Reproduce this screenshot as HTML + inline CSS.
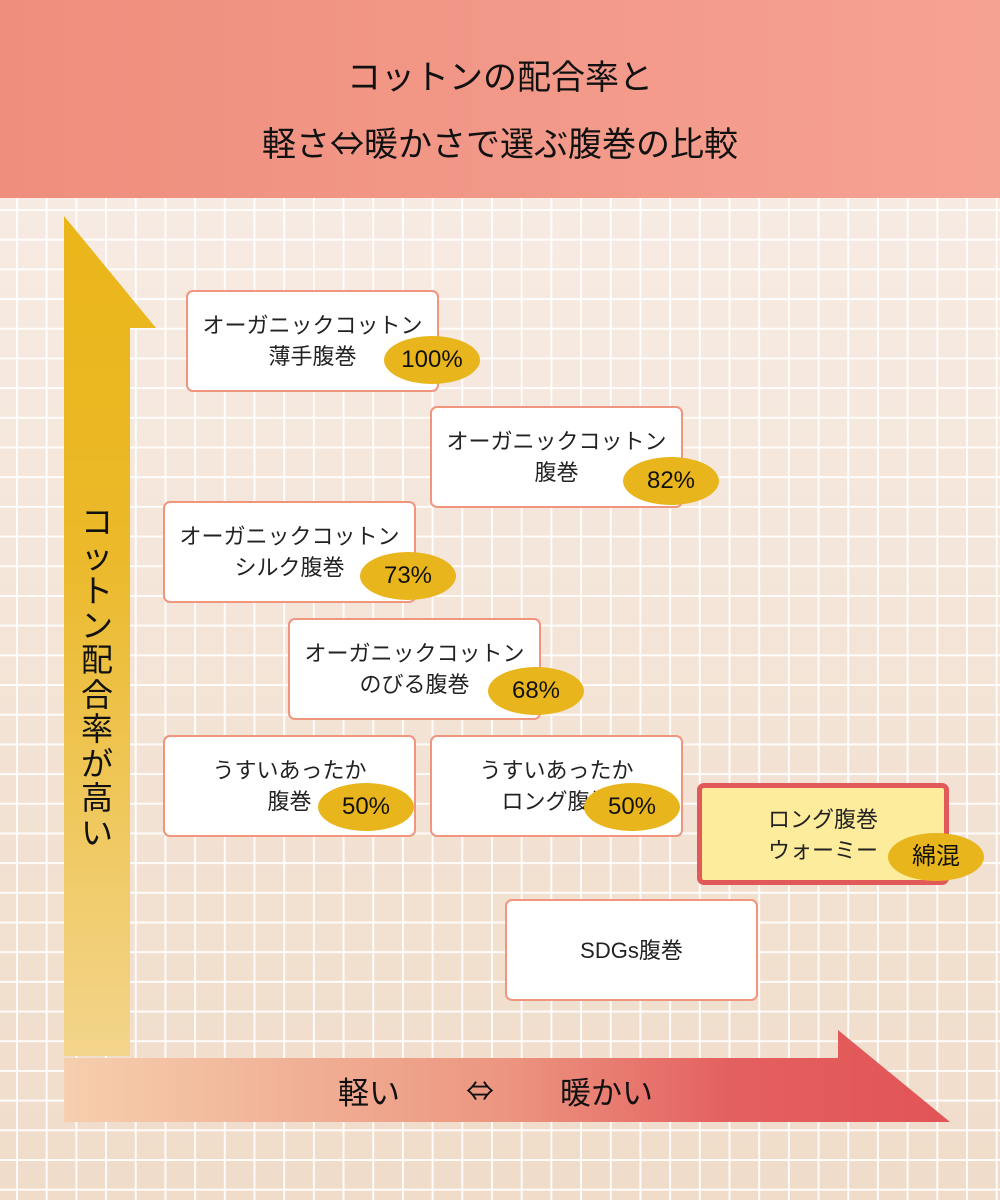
<!DOCTYPE html>
<html><head><meta charset="utf-8"><style>
*{margin:0;padding:0;box-sizing:border-box}
body{width:1000px;height:1200px;position:relative;overflow:hidden;font-family:"Liberation Sans","Noto Sans CJK JP",sans-serif;
background:linear-gradient(#f8eee8,#f0dcc9);}
.grid{position:absolute;left:0;top:198px;width:1000px;height:1002px;
background-image:linear-gradient(90deg,rgba(255,255,255,.9) 2px,transparent 2px),linear-gradient(rgba(255,255,255,.9) 2px,transparent 2px);
background-size:29.7px 29.7px;background-position:16px 11px;}
.hdr{position:absolute;left:0;top:0;width:1000px;height:198px;background:linear-gradient(90deg,#ef8e7d,#f6a293);
color:#111;text-align:center;font-size:34px;font-weight:400}
.hdr div{position:absolute;left:0;width:1000px}
.cj{font-family:"Noto Sans CJK JP",sans-serif}
.box{position:absolute;width:253px;height:102px;background:#fff;border:2px solid #f0957e;border-radius:7px;
text-align:center;font-size:22px;color:#222;line-height:31px;padding-top:18px}
.b{position:absolute;background:#e9b51d;border-radius:50%;width:96px;height:48px;font-size:24px;color:#111;text-align:center;line-height:48px}
.vt{position:absolute;left:79px;top:505px;width:36px;font-size:32px;line-height:34.5px;color:#111;text-align:center}
.ax{position:absolute;top:1068px;font-size:31px;color:#111}
</style></head><body>
<div class="grid"></div>
<div class="hdr"><div style="top:50px">コットンの配合率と</div><div style="top:117px">軽さ<span class="cj">⇔</span>暖かさで選ぶ腹巻の比較</div></div>
<svg style="position:absolute;left:0;top:0" width="1000" height="1200">
<defs>
<linearGradient id="gy" x1="0" y1="0" x2="0" y2="1"><stop offset="0" stop-color="#ebb619"/><stop offset="0.4" stop-color="#ebb92a"/><stop offset="1" stop-color="#f3d58c"/></linearGradient>
<linearGradient id="gr" x1="0" y1="0" x2="1" y2="0"><stop offset="0" stop-color="#f6cfae"/><stop offset="0.5" stop-color="#ec9580"/><stop offset="0.75" stop-color="#e46060"/><stop offset="1" stop-color="#e25456"/></linearGradient>
</defs>
<polygon points="64,216 156,328 130,328 130,1056 64,1056" fill="url(#gy)"/>
<polygon points="64,1058 838,1058 838,1030 950,1122 64,1122" fill="url(#gr)"/>
</svg>
<div class="ax" style="left:338px">軽い</div>
<div class="ax cj" style="left:466px;font-size:28px;top:1070px">⇔</div>
<div class="ax" style="left:560px">暖かい</div>
<div class="vt">コットン配合率が高い</div>

<div class="box" style="left:186px;top:290px">オーガニックコットン<br>薄手腹巻　　</div>
<div class="b" style="left:384px;top:336px">100%</div>

<div class="box" style="left:430px;top:406px">オーガニックコットン<br>腹巻</div>
<div class="b" style="left:623px;top:457px">82%</div>

<div class="box" style="left:163px;top:501px">オーガニックコットン<br>シルク腹巻　</div>
<div class="b" style="left:360px;top:552px">73%</div>

<div class="box" style="left:288px;top:618px">オーガニックコットン<br>のびる腹巻　</div>
<div class="b" style="left:488px;top:667px">68%</div>

<div class="box" style="left:163px;top:735px">うすいあったか<br>腹巻</div>
<div class="b" style="left:318px;top:783px">50%</div>

<div class="box" style="left:430px;top:735px">うすいあったか<br>ロング腹巻　</div>
<div class="b" style="left:584px;top:783px">50%</div>

<div class="box" style="left:697px;top:783px;width:252px;height:102px;border:5px solid #e2595a;background:#fdec9b;padding-top:16px">ロング腹巻<br>ウォーミー　</div>
<div class="b" style="left:888px;top:833px">綿混</div>

<div class="box" style="left:505px;top:899px;padding-top:34px">SDGs腹巻</div>
</body></html>
